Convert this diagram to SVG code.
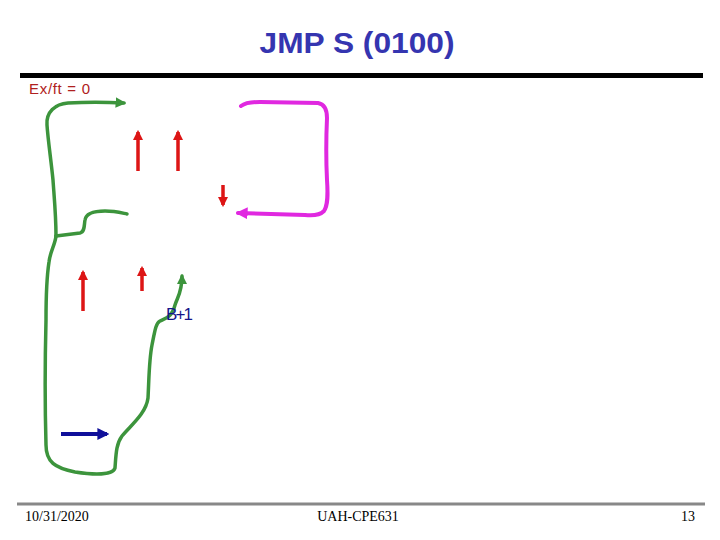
<svg xmlns="http://www.w3.org/2000/svg" width="720" height="540" viewBox="0 0 720 540">
<defs>
<style>
.g{fill:none;stroke:#3c943c;stroke-width:3.5;stroke-linecap:round;stroke-linejoin:round}
.m{fill:none;stroke:#e028e0;stroke-width:4;stroke-linecap:round;stroke-linejoin:round}
.r{fill:none;stroke:#dd1515;stroke-width:3.5}
.b{fill:none;stroke:#10109a;stroke-width:4}
.ft{font-family:"Liberation Serif",serif;font-size:14px;fill:#000}
</style>
<marker id="ag" viewBox="0 0 10 10" refX="8" refY="5" markerWidth="3" markerHeight="3" orient="auto" markerUnits="strokeWidth"><path d="M0,0 L10,5 L0,10 z" fill="#3c943c"/></marker>
<marker id="am" viewBox="0 0 10 10" refX="8" refY="5" markerWidth="3" markerHeight="3" orient="auto" markerUnits="strokeWidth"><path d="M0,0 L10,5 L0,10 z" fill="#e028e0"/></marker>
<marker id="ar" viewBox="0 0 10 10" refX="8" refY="5" markerWidth="3" markerHeight="3" orient="auto" markerUnits="strokeWidth"><path d="M0,0 L10,5 L0,10 z" fill="#dd1515"/></marker>
<marker id="ab" viewBox="0 0 10 10" refX="8" refY="5" markerWidth="3" markerHeight="3" orient="auto" markerUnits="strokeWidth"><path d="M0,0 L10,5 L0,10 z" fill="#10109a"/></marker>
</defs>
<rect width="720" height="540" fill="#fff"/>
<text x="357" y="53" text-anchor="middle" font-family="Liberation Sans,Arial,sans-serif" font-weight="bold" font-size="29" textLength="195" lengthAdjust="spacingAndGlyphs" fill="#3535b0">JMP S (0100)</text>
<line x1="20" y1="75.5" x2="703" y2="75.5" stroke="#000" stroke-width="5"/>
<text x="29" y="94" font-family="Liberation Sans,Arial,sans-serif" font-size="15" textLength="61" fill="#b02020">Ex/ft = 0</text>
<g id="connectors">
<path class="g" marker-end="url(#ag)" d="M56,236 C56,215 54,195 53,180 C51,160 48,140 47,125 C46,112 55,104 68,103 C85,102 105,102 124,103"/>
<path class="g" marker-end="url(#ag)" d="M56,236 C55,245 50,252 49,262 C47,275 46,300 46,320 C45,360 45,410 46,445 C46,462 55,468 75,472 C95,475 113,475 115,468 C116,455 116,444 122,436 C130,426 146,414 148,398 C149,380 149,360 152,345 C155,330 156,323 160,321 C166,318 172,317 175,305 C178,296 182,292 182,276"/>
<path class="g" d="M56,236 L80,233 C85,232 84,225 85,220 C86,213 95,211 105,211 C115,211 122,213 127,214"/>
<path class="m" marker-end="url(#am)" d="M241,106 C245,103 250,102 260,102 L318,103 C324,104 327,109 327,118 C326,140 326,160 327,180 C328,195 328,205 324,211 C320,215 314,216 305,215 L238,213"/>
<line class="r" marker-end="url(#ar)" x1="138" y1="171" x2="138" y2="132"/>
<line class="r" marker-end="url(#ar)" x1="178" y1="171" x2="178" y2="132"/>
<line class="r" marker-end="url(#ar)" x1="223" y1="185" x2="223" y2="205"/>
<line class="r" marker-end="url(#ar)" x1="83" y1="311" x2="83" y2="272"/>
<line class="r" marker-end="url(#ar)" x1="142" y1="291" x2="142" y2="268"/>
<line class="b" marker-end="url(#ab)" x1="61" y1="434" x2="107" y2="434"/>
</g>
<text x="166" y="320" font-family="Liberation Sans,Arial,sans-serif" font-size="17" textLength="27" fill="#15158a">B+1</text>
<line x1="17" y1="504" x2="705" y2="504" stroke="#888" stroke-width="3"/>
<text class="ft" x="25" y="521">10/31/2020</text>
<text class="ft" x="358" y="521" text-anchor="middle">UAH-CPE631</text>
<text class="ft" x="695" y="521" text-anchor="end">13</text>
</svg>
